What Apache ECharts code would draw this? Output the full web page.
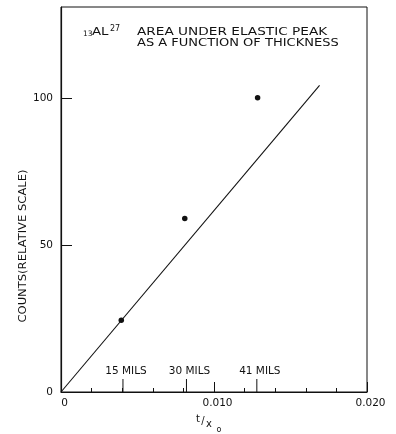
<!DOCTYPE html>
<html>
<head>
<meta charset="utf-8">
<script src="https://cdn.jsdelivr.net/npm/echarts@6/dist/echarts.min.js"></script>
<style>
  html, body { margin: 0; padding: 0; background: #fff; }
  #chart { width: 396px; height: 434px; }
</style>
</head>
<body>
<div id="chart"></div>
<script>
const chart = echarts.init(document.getElementById('chart'));

// measured points (t/x0, counts)
const pointsX = [0.00394, 0.00809, 0.01285];
const pointsY = [24.4, 59.0, 100.1];

// straight line through origin
const fitX = [0, 0.0169];
const fitY = [0, 104.3];

// foil thickness markers on the x axis
const milsX = [0.00405, 0.0082, 0.0128];
const milsLabels = ['15 MILS', '30 MILS', '41 MILS'];

const ink = '#111';
const font = 'DejaVu Sans';

const option = {
    backgroundColor: '#fff',
    animation: false,
    grid: {
        left: 61, right: 29, top: 7, bottom: 42,
        show: true, borderColor: ink, borderWidth: 1
    },
    xAxis: {
        type: 'value',
        min: 0, max: 0.02, interval: 0.01,
        axisLine: { lineStyle: { color: ink, width: 1.2 } },
        axisTick: { inside: true, length: 10, lineStyle: { color: ink } },
        minorTick: { show: true, splitNumber: 5, length: 4, lineStyle: { color: ink } },
        splitLine: { show: false },
        axisLabel: {
            color: ink, fontFamily: font, fontSize: 10.5, margin: 6,
            padding: [0, 0, 0, 7],
            formatter: v => v === 0 ? '0' : v.toFixed(3)
        }
    },
    yAxis: {
        type: 'value',
        min: 0, max: 131, interval: 50,
        axisLine: { show: true, lineStyle: { color: ink, width: 1.2 } },
        axisTick: { show: true, inside: true, length: 11, lineStyle: { color: ink } },
        splitLine: { show: false },
        axisLabel: {
            color: ink, fontFamily: font, fontSize: 10.5, margin: 8,
            showMaxLabel: false
        }
    },
    series: [
        {
            type: 'line',
            data: fitX.map((x, i) => [x, fitY[i]]),
            showSymbol: false,
            lineStyle: { color: ink, width: 1.1 }
        },
        {
            type: 'scatter',
            data: pointsX.map((x, i) => [x, pointsY[i]]),
            symbolSize: 5.5,
            itemStyle: { color: ink, opacity: 1 }
        },
        {
            type: 'custom',
            data: milsX.map((x, i) => [x, i]),
            encode: { x: 0 },
            renderItem: function (params, api) {
                const p = api.coord([api.value(0), 0]);
                return {
                    type: 'group',
                    children: [
                        {
                            type: 'line',
                            shape: { x1: p[0], y1: p[1], x2: p[0], y2: p[1] - 13 },
                            style: { stroke: ink, lineWidth: 1 }
                        },
                        {
                            type: 'text',
                            x: p[0] + 3, y: p[1] - 21,
                            style: {
                                text: milsLabels[api.value(1)],
                                textAlign: 'center', textVerticalAlign: 'middle',
                                fill: ink, font: '10.5px "DejaVu Sans"'
                            }
                        }
                    ]
                };
            }
        }
    ],
    graphic: [
        // title
        { type: 'text', x: 83, y: 34.5, style: { text: '13', fill: ink, font: '7.5px "DejaVu Sans"', textVerticalAlign: 'middle' } },
        { type: 'text', x: 92, y: 32, scaleX: 1.27, style: { text: 'AL', fill: ink, font: '10.5px "DejaVu Sans"', textVerticalAlign: 'middle' } },
        { type: 'text', x: 110, y: 28.5, style: { text: '27', fill: ink, font: '8px "DejaVu Sans"', textVerticalAlign: 'middle' } },
        { type: 'text', x: 137, y: 32, scaleX: 1.3, style: { text: 'AREA UNDER ELASTIC PEAK', fill: ink, font: '10.5px "DejaVu Sans"', textVerticalAlign: 'middle' } },
        { type: 'text', x: 137, y: 43.5, scaleX: 1.24, style: { text: 'AS A FUNCTION OF THICKNESS', fill: ink, font: '10.5px "DejaVu Sans"', textVerticalAlign: 'middle' } },
        // y axis name
        { type: 'text', x: 23, y: 246, rotation: Math.PI / 2, scaleX: 1.1,
          style: { text: 'COUNTS(RELATIVE SCALE)', fill: ink, font: '10.5px "DejaVu Sans"', textAlign: 'center', textVerticalAlign: 'middle' } },
        // x axis name t/x0
        { type: 'text', x: 198, y: 419, style: { text: 't', fill: ink, font: '10px "DejaVu Sans"', textAlign: 'center', textVerticalAlign: 'middle' } },
        { type: 'text', x: 203, y: 421, style: { text: '/', fill: ink, font: '10px "DejaVu Sans"', textAlign: 'center', textVerticalAlign: 'middle' } },
        { type: 'text', x: 209, y: 424, style: { text: 'x', fill: ink, font: '10px "DejaVu Sans"', textAlign: 'center', textVerticalAlign: 'middle' } },
        { type: 'text', x: 219, y: 430, style: { text: 'o', fill: ink, font: '8px "DejaVu Sans"', textAlign: 'center', textVerticalAlign: 'middle' } }
    ]
};

chart.setOption(option);
</script>
</body>
</html>
